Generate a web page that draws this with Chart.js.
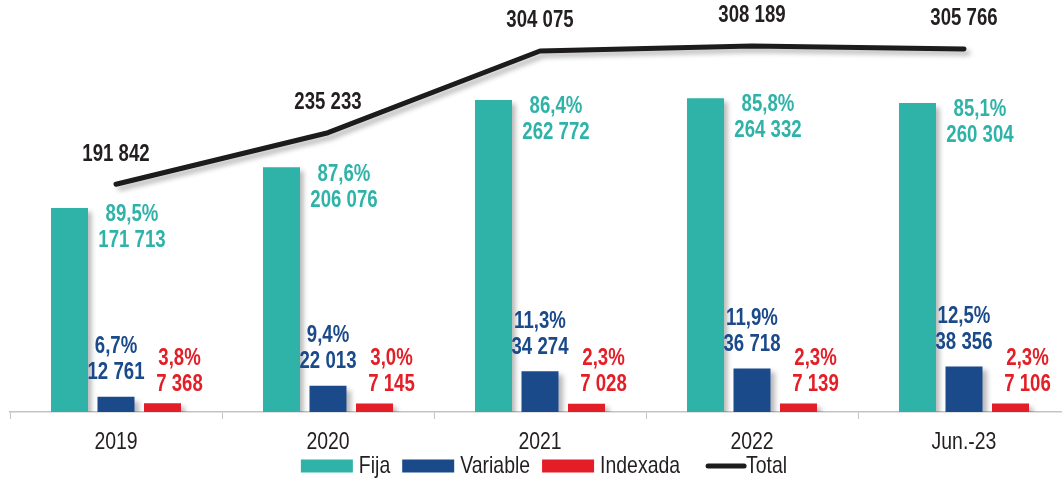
<!DOCTYPE html>
<html>
<head>
<meta charset="utf-8">
<script src="https://cdn.jsdelivr.net/npm/chart.js@4/dist/chart.umd.min.js"></script>
<style>
  html, body { margin: 0; padding: 0; background: #fff; overflow: hidden; }
  #wrap { width: 1072px; height: 479px; position: relative; }
</style>
</head>
<body>
<div id="wrap"><canvas id="chart"></canvas></div>
<script>
// --- DATA ---
const categories = ["2019", "2020", "2021", "2022", "Jun.-23"];
const fija = [171713, 206076, 262772, 264332, 260304];
const variable = [12761, 22013, 34274, 36718, 38356];
const indexada = [7368, 7145, 7028, 7139, 7106];
const total = [191842, 235233, 304075, 308189, 305766];
const fijaPct = [89.5, 87.6, 86.4, 85.8, 85.1];
const variablePct = [6.7, 9.4, 11.3, 11.9, 12.5];
const indexadaPct = [3.8, 3.0, 2.3, 2.3, 2.3];

// --- COLORS / FONT ---
const TEAL = "#2fb3a9";
const BLUE = "#1b4a8b";
const RED = "#e31e26";
const DARK = "#231f20";
const FONT = "'Liberation Sans', Arial, sans-serif";
const NARROW = 0.81; // no narrow font installed -> squeeze horizontally

// number helpers (es format: space thousands, comma decimal)
const fmtNum = v => String(v).replace(/\B(?=(\d{3})+(?!\d))/g, " ");
const fmtPct = v => v.toFixed(1).replace(".", ",") + "%";

// draw condensed text centred at x,y
function narrowText(ctx, text, x, y, align) {
    ctx.save();
    ctx.translate(x, y);
    ctx.scale(NARROW, 1);
    ctx.textAlign = align || "center";
    ctx.fillText(text, 0, 0);
    ctx.restore();
}
function narrowWidth(ctx, text) {
    return ctx.measureText(text).width * NARROW;
}

// drop shadow behind bars and line
const shadowPlugin = {
    id: "shadow",
    beforeDatasetDraw(chart) {
        const ctx = chart.ctx;
        ctx.save();
        ctx.shadowColor = "rgba(0,0,0,0.28)";
        ctx.shadowBlur = 5;
        ctx.shadowOffsetX = 4;
        ctx.shadowOffsetY = 4;
    },
    afterDatasetDraw(chart) {
        chart.ctx.restore();
    }
};

// value + percent labels, x tick labels, legend
const labelPlugin = {
    id: "labels",
    afterDatasetsDraw(chart) {
        const ctx = chart.ctx;
        ctx.save();
        ctx.font = "bold 23px " + FONT;
        ctx.textBaseline = "middle";

        const fMeta = chart.getDatasetMeta(0);
        const vMeta = chart.getDatasetMeta(1);
        const iMeta = chart.getDatasetMeta(2);
        const tMeta = chart.getDatasetMeta(3);

        ctx.fillStyle = TEAL;
        fMeta.data.forEach((bar, i) => {
            const x = bar.x + bar.width / 2 + 44;
            narrowText(ctx, fmtPct(fijaPct[i]), x, bar.y + 7);
            narrowText(ctx, fmtNum(fija[i]), x, bar.y + 33);
        });
        ctx.fillStyle = BLUE;
        vMeta.data.forEach((bar, i) => {
            narrowText(ctx, fmtPct(variablePct[i]), bar.x, bar.y - 50);
            narrowText(ctx, fmtNum(variable[i]), bar.x, bar.y - 24);
        });
        ctx.fillStyle = RED;
        iMeta.data.forEach((bar, i) => {
            const x = bar.x + 17;
            narrowText(ctx, fmtPct(indexadaPct[i]), x, bar.y - 45);
            narrowText(ctx, fmtNum(indexada[i]), x, bar.y - 19);
        });
        ctx.fillStyle = DARK;
        tMeta.data.forEach((pt, i) => {
            narrowText(ctx, fmtNum(total[i]), pt.x, pt.y - 30);
        });
        ctx.restore();
    },
    afterDraw(chart) {
        const ctx = chart.ctx;
        const xs = chart.scales.x;
        const base = chart.chartArea.bottom;
        ctx.save();
        ctx.font = "24px " + FONT;
        ctx.textBaseline = "middle";
        ctx.fillStyle = DARK;
        // category labels
        categories.forEach((c, i) => {
            narrowText(ctx, c, xs.getPixelForValue(i), base + 30);
        });

        // legend
        const items = chart.data.datasets.map(ds => ({
            text: ds.label,
            color: ds.type === "line" ? ds.borderColor : ds.backgroundColor,
            line: ds.type === "line"
        }));
        const boxW = 52, boxH = 13, lineW = 36;
        let width = 0;
        items.forEach((it, k) => {
            it.w = (it.line ? lineW + 18 : boxW + 6) + narrowWidth(ctx, it.text);
            width += it.w + (k < items.length - 1 ? 12 : 0);
        });
        let x = (chart.chartArea.left + chart.chartArea.right) / 2 - width / 2 + 4;
        const y = base + 54;
        items.forEach(it => {
            if (it.line) {
                ctx.strokeStyle = it.color;
                ctx.lineWidth = 5;
                ctx.lineCap = "round";
                ctx.beginPath();
                ctx.moveTo(x + 16, y);
                ctx.lineTo(x + 16 + lineW, y);
                ctx.stroke();
                ctx.fillStyle = DARK;
                narrowText(ctx, it.text, x + lineW + 18, y, "left");
            } else {
                ctx.fillStyle = it.color;
                ctx.fillRect(x, y - boxH / 2, boxW, boxH);
                ctx.fillStyle = DARK;
                narrowText(ctx, it.text, x + boxW + 6, y, "left");
            }
            x += it.w + 12;
        });
        ctx.restore();
    }
};

new Chart(document.getElementById("chart"), {
    type: "bar",
    data: {
        labels: categories,
        datasets: [
            { label: "Fija", data: fija, backgroundColor: TEAL, borderWidth: 0,
              categoryPercentage: 0.658, barPercentage: 0.796 },
            { label: "Variable", data: variable, backgroundColor: BLUE, borderWidth: 0,
              categoryPercentage: 0.658, barPercentage: 0.796 },
            { label: "Indexada", data: indexada, backgroundColor: RED, borderWidth: 0,
              categoryPercentage: 0.658, barPercentage: 0.796 },
            { label: "Total", type: "line", data: total, borderColor: "#1d1b1b", backgroundColor: "#1d1b1b",
              borderWidth: 5, pointRadius: 0, tension: 0,
              borderJoinStyle: "round", borderCapStyle: "round", fill: false }
        ]
    },
    options: {
        responsive: true,
        maintainAspectRatio: false,
        animation: false,
        layout: { padding: { left: 10, right: 2, top: 0, bottom: 60 } },
        plugins: {
            tooltip: { enabled: false },
            legend: { display: false }
        },
        scales: {
            x: {
                grid: { display: true, drawOnChartArea: false, tickLength: 7, color: "#c4c4c4", offset: true },
                border: { display: true, color: "#c4c4c4", width: 1.5 },
                ticks: { display: false }
            },
            y: {
                display: false,
                min: 0,
                max: 347000
            }
        }
    },
    plugins: [shadowPlugin, labelPlugin]
});
</script>
</body>
</html>
